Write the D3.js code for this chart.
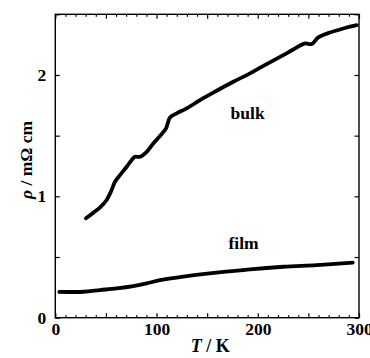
<!DOCTYPE html>
<html>
<head>
<meta charset="utf-8">
<script src="https://cdn.jsdelivr.net/npm/d3@7"></script>
<style>
  body { margin: 0; background: #fff; }
  text { font-family: "Liberation Serif", "Times New Roman", serif; font-weight: bold; }
</style>
</head>
<body>
<script>
// data (T in K, rho in mOhm cm)
let bulkT   = [30.3, 37.6, 44.2, 50.7, 55, 59, 63.9, 70.5, 75.5, 78.7, 83.7, 90.3, 96.8, 103.4, 109.4, 111, 113.3, 119.9, 129.8, 143, 159.4, 175.8, 192.3, 208.8, 225.2, 235.1, 246.7, 253.3, 259.8, 271.4, 284.5, 297.7];
let bulkRho = [0.819, 0.865, 0.909, 0.97, 1.04, 1.12, 1.175, 1.244, 1.30, 1.326, 1.326, 1.367, 1.436, 1.497, 1.56, 1.60, 1.65, 1.684, 1.725, 1.793, 1.87, 1.944, 2.013, 2.09, 2.164, 2.21, 2.26, 2.255, 2.31, 2.35, 2.383, 2.41];
let filmT   = [4, 27.7, 44.2, 60.7, 77, 90.3, 103.4, 126.4, 159.4, 192.3, 225.2, 258, 293.8];
let filmRho = [0.212, 0.214, 0.228, 0.242, 0.261, 0.283, 0.31, 0.338, 0.371, 0.399, 0.42, 0.434, 0.453];
let xTicks = [0, 100, 200, 300];
let yTicks = [0, 1, 2];

let margins = { left: 55.3, top: 14.3, right: 11, bottom: 40.3 };
let svgWidth = 370, svgHeight = 358;
let width = svgWidth - margins.left - margins.right;
let height = svgHeight - margins.top - margins.bottom;

let svg = d3.select("body").append("svg")
  .attr("width", svgWidth)
  .attr("height", svgHeight);
let container = svg.append("g")
  .attr("transform", `translate(${margins.left}, ${margins.top})`);

let xScale = d3.scaleLinear().domain([0, 300]).range([0, width]);
let yScale = d3.scaleLinear().domain([0, 2.5]).range([height, 0]);

// axes: ticks pointing inward on all four sides
function styleAxis(g) {
  g.select(".domain").remove();
  g.selectAll("line").attr("stroke", "#000").attr("stroke-width", 1.2);
  g.selectAll("text").attr("font-size", 17.5).attr("fill", "#000");
}
let minorX = d3.range(0, 301, 10).filter(d => d % 50 != 0);
let midX = d3.range(0, 301, 50);
let minorY = d3.range(0, 2.51, 0.5);

container.append("g").attr("transform", `translate(0, ${height})`)
  .call(d3.axisBottom(xScale).tickValues(minorX).tickSize(-2.5).tickFormat("")).call(styleAxis);
container.append("g").attr("transform", `translate(0, ${height})`)
  .call(d3.axisBottom(xScale).tickValues(midX).tickSize(-4.5).tickFormat("")).call(styleAxis);
container.append("g").attr("transform", `translate(0, ${height})`)
  .call(d3.axisBottom(xScale).tickValues(xTicks).tickSize(0).tickPadding(5).tickFormat(d3.format("d"))).call(styleAxis);
container.append("g")
  .call(d3.axisTop(xScale).tickValues(minorX).tickSize(-2.5).tickFormat("")).call(styleAxis);
container.append("g")
  .call(d3.axisTop(xScale).tickValues(midX).tickSize(-4.5).tickFormat("")).call(styleAxis);

container.append("g")
  .call(d3.axisLeft(yScale).tickValues(minorY).tickSize(-4.5).tickFormat("")).call(styleAxis);
container.append("g")
  .call(d3.axisLeft(yScale).tickValues(yTicks).tickSize(0).tickPadding(9).tickFormat(d3.format("d"))).call(styleAxis);
container.append("g").attr("transform", `translate(${width}, 0)`)
  .call(d3.axisRight(yScale).tickValues(minorY).tickSize(-4.5).tickFormat("")).call(styleAxis);

// frame
container.append("rect")
  .attr("width", width).attr("height", height)
  .attr("fill", "none").attr("stroke", "#000").attr("stroke-width", 1.4);

// curves
let line = d3.line().x(d => xScale(d[0])).y(d => yScale(d[1])).curve(d3.curveCatmullRom);
container.append("path")
  .datum(bulkT.map((t, i) => [t, bulkRho[i]]))
  .attr("d", line).attr("fill", "none").attr("stroke", "#000")
  .attr("stroke-width", 3.8).attr("stroke-linecap", "round").attr("stroke-linejoin", "round");
container.append("path")
  .datum(filmT.map((t, i) => [t, filmRho[i]]))
  .attr("d", line).attr("fill", "none").attr("stroke", "#000")
  .attr("stroke-width", 3.8).attr("stroke-linecap", "round").attr("stroke-linejoin", "round");

// curve labels
container.append("text").text("bulk")
  .attr("x", xScale(190)).attr("y", yScale(1.64))
  .attr("text-anchor", "middle").attr("font-size", 17.5);
container.append("text").text("film")
  .attr("x", xScale(186)).attr("y", yScale(0.57))
  .attr("text-anchor", "middle").attr("font-size", 17.5);

// axis titles
let xLabel = svg.append("text")
  .attr("x", margins.left + width / 2 + 3).attr("y", 352)
  .attr("text-anchor", "middle").attr("font-size", 18);
xLabel.append("tspan").text("T").attr("font-style", "italic");
xLabel.append("tspan").text(" / K");

let yLabel = svg.append("text")
  .attr("transform", `translate(32, 160) rotate(-90)`)
  .attr("text-anchor", "middle").attr("font-size", 17.5);
yLabel.append("tspan").text("ρ").attr("font-style", "italic");
yLabel.append("tspan").text(" / mΩ cm");
</script>
</body>
</html>
